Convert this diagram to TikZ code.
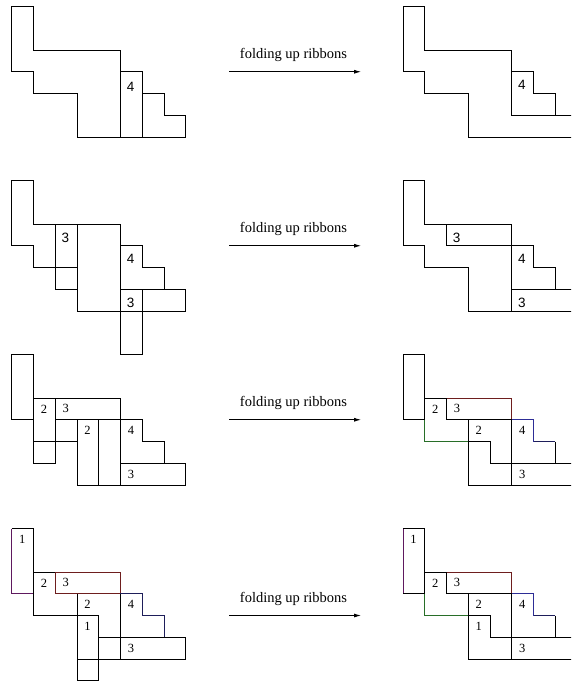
\documentclass[tikz,border=0pt]{standalone}
\usepackage{fontspec}
\setmainfont{Liberation Serif}
\newfontfamily\labsans{Liberation Sans}
\usetikzlibrary{arrows.meta,calc}
\definecolor{cRed}{RGB}{110,30,30}
\definecolor{cGreen}{RGB}{40,110,40}
\definecolor{cBlue}{RGB}{45,45,150}
\definecolor{cNavy}{RGB}{30,30,90}
\definecolor{cPurple}{RGB}{95,25,95}
\tikzset{
  ribline/.style={line width=0.85pt, line join=miter},
  cellgrid/.style={x=21.75pt, y=-21.75pt},
  numS/.style={font=\labsans\fontsize{13.5}{14}\selectfont, inner sep=0pt, yshift=-2.5pt, xshift=-0.8pt},
  numR/.style={font=\fontsize{12.5}{13}\selectfont, inner sep=0pt, xshift=-0.3pt},
  foldarrow/.style={line width=0.8pt, -{Latex[length=7pt,width=4pt]}},
  foldtext/.style={font=\fontsize{14.5}{16}\selectfont, anchor=base, inner sep=0pt}
}
\begin{document}
\begin{tikzpicture}
\useasboundingbox (0,0) rectangle (571pt,-682pt);
\clip (0,0) rectangle (571pt,-682pt);

% ---------------- Row 1 ----------------
\begin{scope}[cellgrid, shift={(11.7pt,-6.5pt)}, ribline]
  \draw (0,0) -- (1,0) -- (1,2) -- (5,2) -- (5,3) -- (6,3) -- (6,4) -- (7,4) -- (7,5) -- (8,5) -- (8,6) -- (3,6) -- (3,4) -- (1,4) -- (1,3) -- (0,3) -- cycle;
  \draw (5,3) -- (5,6) (6,4) -- (6,6);
  \node[numS, yshift=-2pt] (L1a) at (5.5,3.5) {4};
\end{scope}
\begin{scope}[cellgrid, shift={(403pt,-6.5pt)}, ribline]
  \draw (3,6) -- (3,4) -- (1,4) -- (1,3) -- (0,3) -- (0,0) -- (1,0) -- (1,2) -- (5,2) -- (5,3) -- (6,3) -- (6,4) -- (7,4) -- (7,5);
  \draw (5,3) -- (5,5) -- (8.5,5);
  \draw (3,6) -- (8.5,6);
  \node[numS] (R1a) at (5.5,3.5) {4};
\end{scope}

% ---------------- Row 2 ----------------
\begin{scope}[cellgrid, shift={(11.7pt,-180.5pt)}, ribline]
  \draw (0,3) -- (0,0) -- (1,0) -- (1,2) -- (5,2) -- (5,8) -- (6,8) -- (6,5);
  \draw (0,3) -- (1,3) -- (1,4) -- (3,4);
  \draw (2,2) -- (2,5) -- (3,5);
  \draw (3,2) -- (3,6) -- (8,6) -- (8,5) -- (5,5);
  \draw (5,3) -- (6,3) -- (6,4) -- (7,4) -- (7,5);
  \node[numS] (L2a) at (2.5,2.5) {3};
  \node[numS] (L2b) at (5.5,3.5) {4};
  \node[numS] (L2c) at (5.5,5.5) {3};
\end{scope}
\begin{scope}[cellgrid, shift={(403pt,-180.5pt)}, ribline]
  \draw (3,6) -- (3,4) -- (1,4) -- (1,3) -- (0,3) -- (0,0) -- (1,0) -- (1,2) -- (5,2) -- (5,6);
  \draw (2,2) -- (2,3) -- (5,3) -- (6,3) -- (6,4) -- (7,4) -- (7,5);
  \draw (5,5) -- (8.5,5);
  \draw (3,6) -- (8.5,6);
  \node[numS] (R2a) at (2.5,2.5) {3};
  \node[numS] (R2b) at (5.5,3.5) {4};
  \node[numS] (R2c) at (5.5,5.5) {3};
\end{scope}

% ---------------- Row 3 ----------------
\begin{scope}[cellgrid, shift={(11.7pt,-354.5pt)}, ribline]
  \draw (0,0) rectangle (1,3);
  \draw (1,2) -- (5,2) -- (5,6);
  \draw (1,2) -- (1,5) -- (2,5) -- (2,2);
  \draw (1,4) -- (3,4);
  \draw (2,3) -- (5,3) -- (6,3) -- (6,4) -- (7,4) -- (7,5);
  \draw (3,3) -- (3,6) (4,3) -- (4,6);
  \draw (5,5) -- (8,5) -- (8,6) -- (3,6);
  \node[numR] (L3a) at (1.5,2.5) {2};
  \node[numR] (L3b) at (2.5,2.5) {3};
  \node[numR] (L3c) at (3.5,3.5) {2};
  \node[numR] (L3d) at (5.5,3.5) {4};
  \node[numR] (L3e) at (5.5,5.5) {3};
\end{scope}
\begin{scope}[cellgrid, shift={(403pt,-354.5pt)}, ribline]
  \draw (0,0) rectangle (1,3);
  \draw (1,2) -- (2,2);
  \draw[cRed] (2,2) -- (5,2) -- (5,3);
  \draw (1,2) -- (1,3);
  \draw[cGreen] (1,3) -- (1,4) -- (3,4);
  \draw (2,2) -- (2,3) -- (5,3);
  \draw (3,3) -- (3,6) -- (8.5,6);
  \draw (3,4) -- (4,4) -- (4,5) -- (8.5,5);
  \draw (5,3) -- (5,6);
  \draw[cBlue] (5,3) -- (6,3) -- (6,4);
  \draw[cNavy] (6,4) -- (7,4);
  \draw (7,4) -- (7,5);
  \node[numR] (R3a) at (1.5,2.5) {2};
  \node[numR] (R3b) at (2.5,2.5) {3};
  \node[numR] (R3c) at (3.5,3.5) {2};
  \node[numR] (R3d) at (5.5,3.5) {4};
  \node[numR] (R3e) at (5.5,5.5) {3};
\end{scope}

% ---------------- Row 4 ----------------
\begin{scope}[cellgrid, shift={(11.7pt,-528.5pt)}, ribline]
  \draw[cPurple] (1,3) -- (0,3) -- (0,0);
  \draw (0,0) -- (1,0) -- (1,4) -- (4,4) -- (4,7) -- (3,7) -- (3,3);
  \draw (1,2) -- (2,2);
  \draw[cRed] (2,2) rectangle (5,3);
  \draw (5,3) -- (5,6);
  \draw[cNavy] (5,3) -- (6,3) -- (6,4) -- (7,4) -- (7,5);
  \draw (4,5) -- (8,5) -- (8,6) -- (3,6);
  \node[numR] (L4a) at (0.5,0.5) {1};
  \node[numR] (L4b) at (1.5,2.5) {2};
  \node[numR] (L4c) at (2.5,2.5) {3};
  \node[numR] (L4d) at (3.5,3.5) {2};
  \node[numR] (L4e) at (3.5,4.5) {1};
  \node[numR] (L4f) at (5.5,3.5) {4};
  \node[numR] (L4g) at (5.5,5.5) {3};
\end{scope}
\begin{scope}[cellgrid, shift={(403pt,-528.5pt)}, ribline]
  \draw[cPurple] (0,0) -- (0,3);
  \draw (0,3) -- (1,3) -- (1,0) -- (0,0);
  \draw (1,2) -- (2,2);
  \draw[cRed] (2,2) -- (5,2) -- (5,3);
  \draw[cGreen] (1,3) -- (1,4) -- (3,4);
  \draw (2,2) -- (2,3) -- (5,3);
  \draw (3,3) -- (3,6) -- (8.5,6);
  \draw (3,4) -- (4,4) -- (4,5) -- (8.5,5);
  \draw (5,3) -- (5,6);
  \draw[cBlue] (5,3) -- (6,3) -- (6,4);
  \draw[cNavy] (6,4) -- (7,4);
  \draw (7,4) -- (7,5);
  \node[numR] (R4a) at (0.5,0.5) {1};
  \node[numR] (R4b) at (1.5,2.5) {2};
  \node[numR] (R4c) at (2.5,2.5) {3};
  \node[numR] (R4d) at (3.5,3.5) {2};
  \node[numR] (R4e) at (3.5,4.5) {1};
  \node[numR] (R4f) at (5.5,3.5) {4};
  \node[numR] (R4g) at (5.5,5.5) {3};
\end{scope}

% ---------------- Arrows ----------------
\coordinate (a1s) at (229pt,-71.75pt);  \coordinate (a1e) at (361pt,-71.75pt);
\coordinate (a2s) at (229pt,-245.75pt); \coordinate (a2e) at (361pt,-245.75pt);
\coordinate (a3s) at (229pt,-419.75pt); \coordinate (a3e) at (361pt,-419.75pt);
\coordinate (a4s) at (229pt,-615.5pt);  \coordinate (a4e) at (361pt,-615.5pt);
\foreach \k in {1,2,3,4} {
  \draw[foldarrow] (a\k s) -- (a\k e);
  \node[foldtext] (t\k) at ($(a\k s)!0.5!(a\k e)+(-1.5pt,13pt)$) {folding up ribbons};
}
\end{tikzpicture}
\end{document}
